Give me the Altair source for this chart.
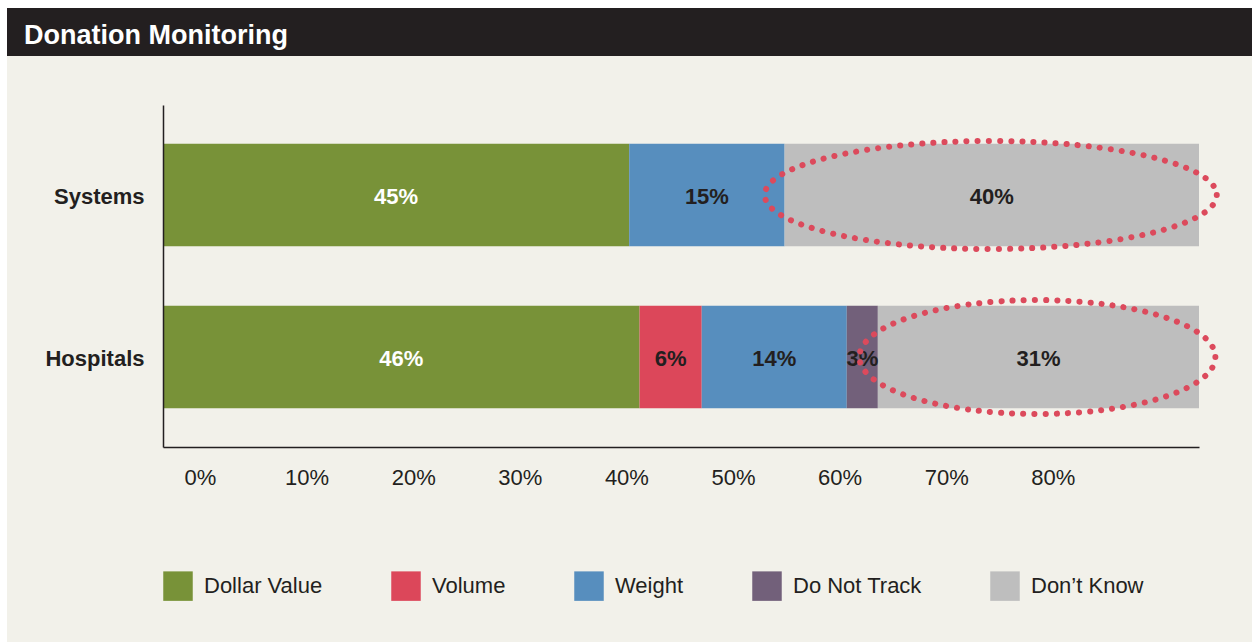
import altair as alt
import pandas as pd

FONT = "Liberation Sans"
DARK = "#231f20"
BEIGE = "#f2f1ea"
RED_DOTS = "#dc4a5c"

groups = ["Systems", "Hospitals"]
categories = ["Dollar Value", "Volume", "Weight", "Do Not Track", "Don\u2019t Know"]
colors = ["#789238", "#dc475a", "#578ebe", "#72607a", "#bebebe"]
systems_values = [45, 0, 15, 0, 40]
hospitals_values = [46, 6, 14, 3, 31]

tick_values = [0, 10, 20, 30, 40, 50, 60, 70, 80]
tick_labels = ["0%", "10%", "20%", "30%", "40%", "50%", "60%", "70%", "80%"]

# highlighted (circled) segments: group, centre on the value axis
ellipse_groups = ["Systems", "Hospitals"]
ellipse_centers = [79.9, 84.4]

rows = []
for g, vals in zip(groups, [systems_values, hospitals_values]):
    for i, (c, v) in enumerate(zip(categories, vals)):
        if v > 0:
            rows.append({"group": g, "category": c, "order": i, "value": v, "label": f"{v}%"})
df = pd.DataFrame(rows)

x_scale = alt.Scale(domain=[0, 100], nice=False, zero=True)
y_scale = alt.Scale(paddingInner=0.366, paddingOuter=0.2385)

base = alt.Chart(df).transform_stack(
    stack="value", groupby=["group"], as_=["x0", "x1"],
    sort=[alt.SortField("order", order="ascending")]
).transform_calculate(mid="(datum.x0 + datum.x1) / 2")

bars = base.mark_bar().encode(
    x=alt.X("x0:Q", scale=x_scale,
            axis=alt.Axis(title=None, labels=False, ticks=False, grid=False,
                          domainColor=DARK, domainWidth=1.5, zindex=1)),
    x2="x1:Q",
    y=alt.Y("group:N", sort=groups, scale=y_scale,
            axis=alt.Axis(title=None, ticks=False, grid=False, labelPadding=19,
                          labelOffset=2,
                          labelFontSize=22, labelFontWeight="bold", labelFont=FONT,
                          labelColor=DARK, domainColor=DARK, domainWidth=1.5, zindex=1)),
    color=alt.Color("category:N", sort=categories,
                    scale=alt.Scale(domain=categories, range=colors),
                    legend=alt.Legend(title=None, orient="none", legendX=0, legendY=466,
                                      direction="horizontal", columns=5, columnPadding=68,
                                      symbolType="square", symbolSize=870, symbolStrokeWidth=0,
                                      symbolOpacity=1,
                                      labelFontSize=22, labelFont=FONT, labelColor=DARK,
                                      labelOffset=11, labelLimit=0, padding=0)),
)

bar_labels = base.mark_text(fontSize=22, fontWeight="bold", font=FONT, baseline="middle",
                            dy=2).encode(
    x=alt.X("mid:Q", scale=x_scale),
    y=alt.Y("group:N", sort=groups, scale=y_scale),
    text="label:N",
    color=alt.condition(alt.datum.category == "Dollar Value", alt.value("white"), alt.value(DARK)),
)


def ellipse_path(r):
    k = 0.5523
    a = round(r * k, 4)
    return (f"M 1 0 C 1 {a} {k} {r} 0 {r} C {-k} {r} -1 {a} -1 0 "
            f"C -1 {-a} {-k} {-r} 0 {-r} C {k} {-r} 1 {-a} 1 0 Z")


ell_specs = [(0.239, 452 ** 2), (0.32, 356 ** 2)]
ellipses = []
for g, cx, (r, size) in zip(ellipse_groups, ellipse_centers, ell_specs):
    ellipses.append(
        alt.Chart(pd.DataFrame({"group": [g], "cx": [cx]})).mark_point(
            shape=ellipse_path(r), size=size, filled=False, color=RED_DOTS,
            strokeWidth=6, strokeDash=[0.1, 11], strokeCap="round", opacity=1
        ).encode(
            x=alt.X("cx:Q", scale=x_scale),
            y=alt.Y("group:N", sort=groups, scale=y_scale),
        )
    )

inner = alt.layer(bars, bar_labels, *ellipses)

ticks_df = pd.DataFrame({"v": tick_values, "label": tick_labels})
tick_text = alt.Chart(ticks_df).mark_text(
    fontSize=22, font=FONT, color=DARK, baseline="middle", align="center"
).encode(
    x=alt.X("v:Q", scale=alt.Scale(domain=[0, 80], range=[37.5, 890.3]), axis=None),
    y=alt.value(373),
    text="label:N",
)

one = pd.DataFrame({"k": [0]})
beige = alt.Chart(one).mark_rect(color=BEIGE).encode(
    x=alt.value(-156), x2=alt.value(1089), y=alt.value(-49), y2=alt.value(537))
black = alt.Chart(one).mark_rect(color=DARK).encode(
    x=alt.value(-156), x2=alt.value(1089), y=alt.value(-97), y2=alt.value(-49))
title = alt.Chart(one).mark_text(
    text="Donation Monitoring", align="left", baseline="alphabetic",
    fontSize=27, fontWeight="bold", color="white", font=FONT
).encode(x=alt.value(-139), y=alt.value(-61))

chart = alt.layer(beige, black, title, inner, tick_text).resolve_scale(
    x="independent"
).properties(
    width=1036, height=342,
    autosize=alt.AutoSizeParams(type="none"),
    padding={"left": 163, "top": 105, "right": 53, "bottom": 195},
    background="white",
).configure_view(stroke=None)

chart.save("out.html", embed_options={"renderer": "svg", "actions": False})
